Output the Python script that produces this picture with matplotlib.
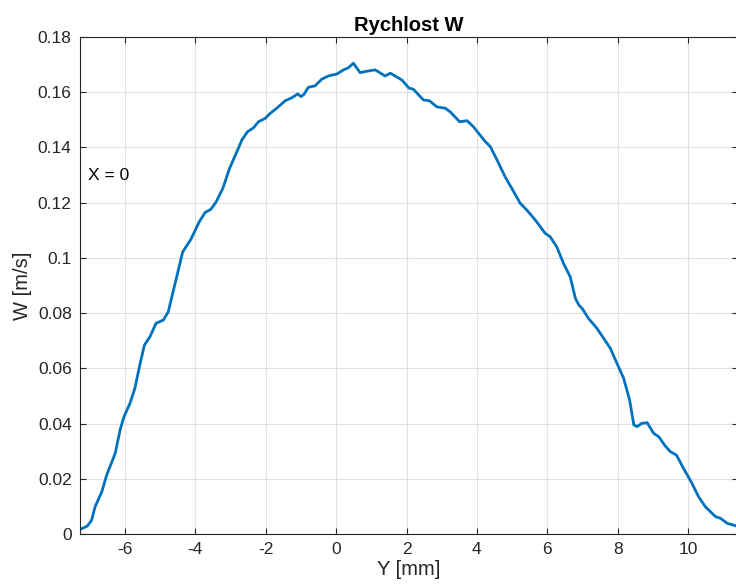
import matplotlib
matplotlib.use("Agg")
import matplotlib.pyplot as plt

plt.rcParams['font.family'] = ['Liberation Sans', 'DejaVu Sans']
plt.rcParams['axes.unicode_minus'] = False

y_mm = [-7.27, -7.07, -6.95, -6.85, -6.66, -6.52, -6.28, -6.14, -6.03, -5.86, -5.72, -5.57,
        -5.45, -5.29, -5.12, -4.91, -4.77, -4.63, -4.36, -4.13, -3.89, -3.72, -3.56, -3.41,
        -3.22, -3.03, -2.82, -2.68, -2.52, -2.35, -2.21, -2.02, -1.88, -1.69, -1.45, -1.26,
        -1.09, -1.00, -0.91, -0.79, -0.60, -0.41, -0.22, 0.02, 0.21, 0.35, 0.49, 0.68, 0.87,
        1.11, 1.39, 1.54, 1.87, 2.06, 2.20, 2.48, 2.65, 2.86, 3.10, 3.24, 3.51, 3.72, 3.90,
        4.05, 4.24, 4.38, 4.57, 4.80, 4.99, 5.23, 5.42, 5.66, 5.94, 6.08, 6.27, 6.46, 6.65,
        6.80, 6.90, 6.99, 7.17, 7.41, 7.60, 7.79, 7.98, 8.17, 8.34, 8.46, 8.55, 8.69, 8.84,
        9.02, 9.17, 9.35, 9.50, 9.67, 9.87, 10.11, 10.30, 10.49, 10.78, 10.92, 11.11, 11.37]
w_ms = [0.0017, 0.0029, 0.0050, 0.0099, 0.0153, 0.0214, 0.0292, 0.0377, 0.0425, 0.0473,
        0.0528, 0.0618, 0.0684, 0.0715, 0.0763, 0.0775, 0.0805, 0.0880, 0.1022, 0.1067,
        0.1131, 0.1165, 0.1176, 0.1203, 0.1252, 0.1324, 0.1385, 0.1427, 0.1457, 0.1471,
        0.1493, 0.1505, 0.1523, 0.1542, 0.1569, 0.1580, 0.1594, 0.1584, 0.1593, 0.1618,
        0.1623, 0.1647, 0.1659, 0.1666, 0.1681, 0.1689, 0.1705, 0.1671, 0.1676, 0.1681,
        0.1659, 0.1669, 0.1644, 0.1616, 0.1610, 0.1572, 0.1569, 0.1547, 0.1542, 0.1529,
        0.1493, 0.1497, 0.1475, 0.1451, 0.1421, 0.1403, 0.1355, 0.1294, 0.1252, 0.1198,
        0.1173, 0.1137, 0.1089, 0.1077, 0.1040, 0.0980, 0.0932, 0.0853, 0.0829, 0.0817,
        0.0781, 0.0745, 0.0709, 0.0673, 0.0618, 0.0564, 0.0485, 0.0395, 0.0389, 0.0401,
        0.0403, 0.0365, 0.0352, 0.0319, 0.0298, 0.0286, 0.0238, 0.0184, 0.0135, 0.0099,
        0.0063, 0.0057, 0.0039, 0.0029]

x_ticks = [-6, -4, -2, 0, 2, 4, 6, 8, 10]
y_ticks = [0, 0.02, 0.04, 0.06, 0.08, 0.1, 0.12, 0.14, 0.16, 0.18]
y_ticklabels = ['0', '0.02', '0.04', '0.06', '0.08', '0.1', '0.12', '0.14', '0.16', '0.18']

fig = plt.figure(figsize=(7.36, 5.87), dpi=100)
ax = fig.add_axes([80/736, 1-534/587, 658/736, 497/587])

ax.plot(y_mm, w_ms, color='#0072BD', linewidth=2.0, solid_joinstyle='round')
ax.set_xlim(-7.28, 11.42)
ax.set_ylim(0, 0.18)
ax.set_xticks(x_ticks)
ax.set_yticks(y_ticks)
ax.set_yticklabels(y_ticklabels)
ax.grid(True, color='#e0e0e0', linewidth=0.8)
ax.set_axisbelow(True)
ax.tick_params(direction='in', top=True, right=True, length=4, width=0.8,
               colors='#262626', labelsize=12.5, pad=6)
for s in ax.spines.values():
    s.set_color('#262626')
    s.set_linewidth(0.8)

ax.set_xlabel('Y [mm]', fontsize=14.5, color='#262626', labelpad=2)
ax.set_ylabel('W [m/s]', fontsize=14.5, color='#262626', labelpad=4)
ax.set_title('Rychlost W', fontsize=14.5, fontweight='bold', color='black', pad=4)
ax.text(-7.05, 0.1297, 'X = 0', fontsize=12.5, color='black', va='center', ha='left')

fig.savefig('out.png', dpi=100)
